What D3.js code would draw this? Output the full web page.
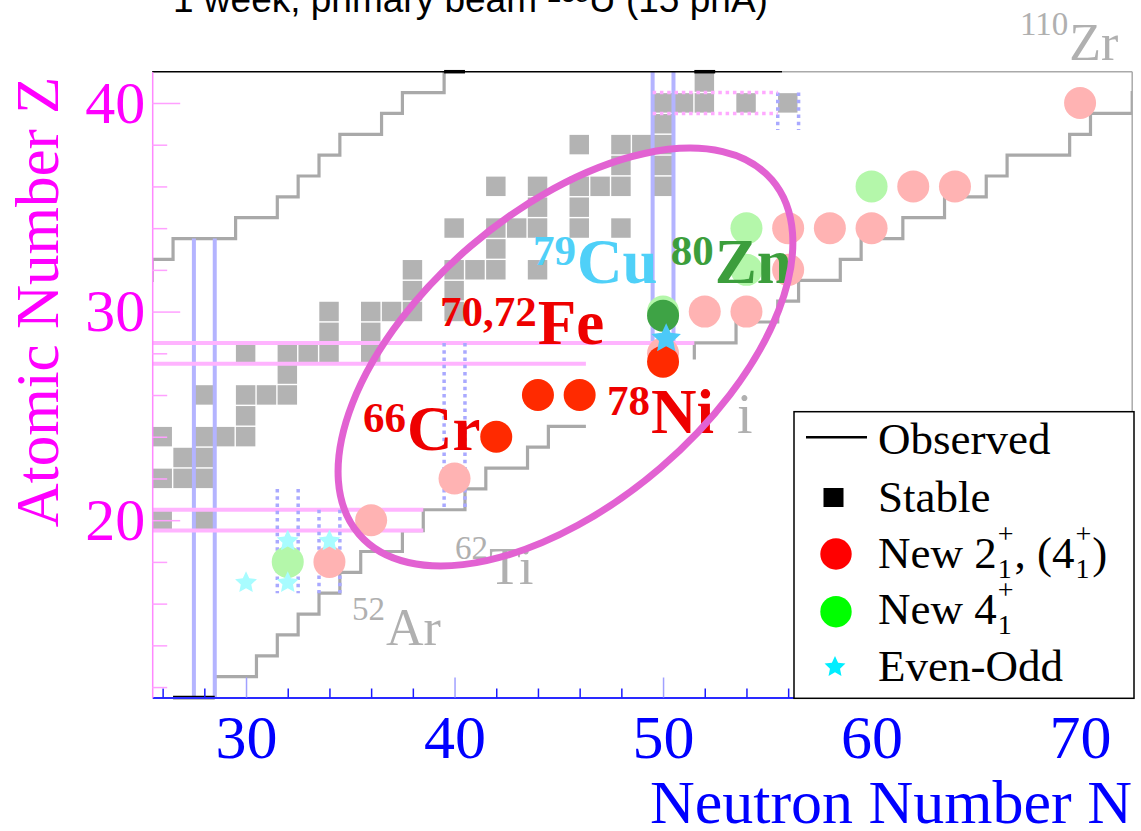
<!DOCTYPE html>
<html><head><meta charset="utf-8">
<script src="https://cdn.jsdelivr.net/npm/d3@7"></script>
<style>body{margin:0;background:#fff}svg{display:block}text{white-space:pre}</style>
</head><body>
<svg id="chart" width="1141" height="831"></svg>
<script>
// ---------------- data ----------------
const xDomain = [25.5, 72.5];
const yDomain = [11.5, 41.5];
const xMajorTicks = [30, 40, 50, 60, 70];
const xMinorTicks = [26, 28, 32, 34, 36, 38, 42, 44, 46, 48, 52, 54, 56, 58, 62, 64, 66, 68, 72];
const yMajorTicks = [20, 30, 40];
const yMinorTicks = [12, 14, 16, 18, 22, 24, 26, 28, 32, 34, 36, 38];

// stable nuclei [N, Z]
const stableNuclei = [
  [26,20],[28,20],
  [26,22],[27,22],[28,22],
  [27,23],[28,23],
  [26,24],[28,24],[29,24],[30,24],
  [30,25],
  [28,26],[30,26],[31,26],[32,26],
  [32,27],
  [30,28],[32,28],[33,28],[34,28],[36,28],
  [34,29],[36,29],
  [34,30],[36,30],[37,30],[38,30],[40,30],
  [38,31],[40,31],
  [38,32],[40,32],[41,32],[42,32],[44,32],
  [42,33],
  [40,34],[42,34],[43,34],[44,34],[46,34],[48,34],
  [44,35],[46,35],
  [42,36],[44,36],[46,36],[47,36],[48,36],[50,36],
  [48,37],[50,37],
  [46,38],[48,38],[49,38],[50,38],
  [50,39],
  [50,40],[51,40],[52,40],[54,40],[56,40],
  [52,41]
];

// observed limits (staircases) [N, Z]
const protonLimit = [[24.5,31.5],[25.5,31.5],[25.5,32.5],[26.5,32.5],[26.5,33.5],[29.5,33.5],[29.5,34.5],[31.5,34.5],[31.5,35.5],[32.5,35.5],[32.5,36.5],[33.5,36.5],[33.5,37.5],[34.5,37.5],[34.5,38.5],[36.5,38.5],[36.5,39.5],[37.5,39.5],[37.5,40.5],[39.5,40.5],[39.5,41.5]];
const neutronLimitLow = [[28.5,11.5],[28.5,12.5],[30.5,12.5],[30.5,13.5],[31.5,13.5],[31.5,14.5],[32.5,14.5],[32.5,15.5],[33.5,15.5],[33.5,16.5],[34.5,16.5],[34.5,17.5],[35.5,17.5],[35.5,18.5],[37.5,18.5],[37.5,19.5],[38.5,19.5],[38.5,20.5],[40.5,20.5],[40.5,21.5],[41.5,21.5],[41.5,22.5],[43.5,22.5],[43.5,23.5],[44.5,23.5],[44.5,24.5],[46.3,24.5]];
const neutronLimitHigh = [[51.5,27.7],[51.5,28.5],[53.5,28.5],[53.5,29.5],[55.5,29.5],[55.5,30.5],[56.5,30.5],[56.5,31.5],[58.5,31.5],[58.5,32.5],[59.5,32.5],[59.5,33.5],[61.5,33.5],[61.5,34.5],[63.5,34.5],[63.5,35.5],[65.5,35.5],[65.5,36.5],[66.5,36.5],[66.5,37.5],[69.5,37.5],[69.5,38.5],[70.5,38.5],[70.5,39.5],[72.5,39.5],[72.5,40.5],[73.5,40.5]];
const edgeObserved = [[[26.5,11.5],[28.5,11.5]], [[39.5,41.5],[40.5,41.5]], [[51.5,41.5],[52.5,41.5]]];

// magic number lines: N lines [N, Zfrom, Zto], Z lines [Z, Nfrom, Nto]
const magicNLines = [[27.5,11.5,33.5],[28.5,11.5,33.5],[49.5,28.5,41.5],[50.5,28.5,41.5]];
const magicZLines = [[19.5,25.5,38.5],[20.5,25.5,38.5],[27.5,25.5,46.3],[28.5,25.5,51.5]];
const dottedNLines = [[31.5,21.5,16.5],[32.5,21.5,16.5],[33.5,20.5,16.5],[34.5,20.5,16.5],[39.5,28.5,20.5],[40.5,28.5,20.5],[55.5,40.5,38.7],[56.5,40.5,38.7]];
const dottedZLines = [[39.5,49.5,55.5],[40.5,49.5,55.5]];

// measured (faded) states
const faded2plus = [[34,18],[36,20],[40,22],[50,28],[52,30],[54,30],[56,32],[56,34],[58,34],[60,34],[62,36],[64,36],[70,40]];
const faded4plus = [[32,18],[50,30],[54,32],[54,34],[60,36]];
const fadedEvenOdd = [[30,17],[32,17],[32,19],[34,19]];
// highlighted
const new2plus = [[42,24],[44,26],[46,26],[50,27.6]];
const new4plus = [[50,29.8]];
const newEvenOdd = [[50.15,28.7]];

// labels: start N, baseline Z, superscript, symbol
const boldLabels = [
  {n:35.61, z:23.36, sup:"66", sym:"Cr", color:"#ee0000"},
  {n:39.30, z:28.47, sup:"70,72", sym:"Fe", color:"#ee0000"},
  {n:47.31, z:24.16, sup:"78", sym:"Ni", color:"#ee0000"},
  {n:43.76, z:31.37, sup:"79", sym:"Cu", color:"#4fd0f8"},
  {n:50.37, z:31.35, sup:"80", sym:"Zn", color:"#3c9e3c"}
];
const grayLabels = [
  {n:35.08, z:14.0, sup:"52", sym:"Ar"},
  {n:40.02, z:16.96, sup:"62", sym:"Ti"},
  {n:67.12, z:42.06, sup:"110", sym:"Zr"}
];
const grayFragment = {n:53.55, z:24.17, text:"i"};
const ellipseCenter = [45.32, 27.82];
const ellipseRadii = [13.05, 7.0];
const ellipseAngle = 40.6;

// ---------------- drawing ----------------
const svg = d3.select("#chart");
const x = d3.scaleLinear().domain(xDomain).range([152.2, 1132.2]);
const y = d3.scaleLinear().domain(yDomain).range([697.5, 71.7]);
const unit = x(1) - x(0);
const serif = "'Liberation Serif','Times New Roman',serif";
const sans = "'Liberation Sans',Arial,sans-serif";

// fat five-pointed star symbol (size = outer radius squared)
const fatStar = {
  draw(ctx, size) {
    const ro = Math.sqrt(size), ri = ro * 0.48;
    for (let i = 0; i < 10; i++) {
      const r = i % 2 ? ri : ro, a = -Math.PI / 2 + i * Math.PI / 5;
      const px = r * Math.cos(a), py = r * Math.sin(a);
      i ? ctx.lineTo(px, py) : ctx.moveTo(px, py);
    }
    ctx.closePath();
  }
};

svg.append("defs").append("clipPath").attr("id","plot")
  .append("rect").attr("x",x(25.5)).attr("y",y(41.5)).attr("width",x(72.5)-x(25.5)).attr("height",y(11.5)-y(41.5));
const plot = svg.append("g").attr("clip-path","url(#plot)");

// stable squares
plot.append("g").selectAll("rect").data(stableNuclei).join("rect")
  .attr("x", d => x(d[0]-0.5)+0.3).attr("y", d => y(d[1]+0.5)+0.6)
  .attr("width", unit-1.4).attr("height", unit-1.4)
  .attr("fill","#b3b3b3");

// staircases
const line = d3.line().x(d => x(d[0])).y(d => y(d[1]));
[protonLimit, neutronLimitLow, neutronLimitHigh].forEach(p =>
  plot.append("path").attr("d", line(p)).attr("fill","none").attr("stroke","#a9a9a9").attr("stroke-width",3.2));

// magic lines
plot.append("g").selectAll("line").data(magicNLines).join("line")
  .attr("x1", d=>x(d[0])).attr("x2", d=>x(d[0])).attr("y1", d=>y(d[1])).attr("y2", d=>y(d[2]))
  .attr("stroke","#b4b4ff").attr("stroke-width",4);
plot.append("g").selectAll("line").data(magicZLines).join("line")
  .attr("y1", d=>y(d[0])).attr("y2", d=>y(d[0])).attr("x1", d=>x(d[1])).attr("x2", d=>x(d[2]))
  .attr("stroke","#ffb4ff").attr("stroke-width",4);
plot.append("g").selectAll("line").data(dottedNLines).join("line")
  .attr("x1", d=>x(d[0])).attr("x2", d=>x(d[0])).attr("y1", d=>y(d[1])).attr("y2", d=>y(d[2]))
  .attr("stroke","#a9a9ff").attr("stroke-width",3.5).attr("stroke-dasharray","3.5 3.8");
plot.append("g").selectAll("line").data(dottedZLines).join("line")
  .attr("y1", d=>y(d[0])).attr("y2", d=>y(d[0])).attr("x1", d=>x(d[1])).attr("x2", d=>x(d[2]))
  .attr("stroke","#ffaaff").attr("stroke-width",3.5).attr("stroke-dasharray","3.5 3.8");

// gray labels
function supLabel(g, xp, yp, sup, sym, color, supSize, mainSize, weight, rise) {
  const t = g.append("text").attr("x", xp).attr("y", yp - rise).attr("fill", color)
    .attr("font-family", serif).attr("font-weight", weight);
  t.append("tspan").attr("font-size", supSize).text(sup);
  t.append("tspan").attr("font-size", mainSize).attr("dy", rise).attr("dx", 1).text(sym);
  return t;
}
grayLabels.forEach(l => supLabel(svg, x(l.n), y(l.z), l.sup, l.sym, "#b0b0b0", 33, 52, "normal", 25));
svg.append("text").attr("x", x(grayFragment.n)).attr("y", y(grayFragment.z)).attr("fill","#b0b0b0")
  .attr("font-family", serif).attr("font-size", 56).text(grayFragment.text);

// faded markers
const R = 16;
plot.append("g").selectAll("circle").data(faded2plus).join("circle")
  .attr("cx", d=>x(d[0])).attr("cy", d=>y(d[1])).attr("r", R).attr("fill","#ffb3b3");
plot.append("g").selectAll("circle").data(faded4plus).join("circle")
  .attr("cx", d=>x(d[0])).attr("cy", d=>y(d[1])).attr("r", R).attr("fill","#b4f7aa");
plot.append("g").selectAll("path").data(fadedEvenOdd).join("path")
  .attr("d", d3.symbol().type(fatStar).size(11.5*11.5))
  .attr("transform", d=>`translate(${x(d[0])},${y(d[1])})`).attr("fill","#a8fcff");

// bold labels
boldLabels.forEach(l => supLabel(svg, x(l.n), y(l.z), l.sup, l.sym, l.color, 43, 63, "bold", 18));

// highlighted markers
plot.append("g").selectAll("circle").data(new2plus).join("circle")
  .attr("cx", d=>x(d[0])).attr("cy", d=>y(d[1])).attr("r", R).attr("fill","#ff2a00");
plot.append("g").selectAll("circle").data(new4plus).join("circle")
  .attr("cx", d=>x(d[0])).attr("cy", d=>y(d[1])).attr("r", R).attr("fill","#3ea345");
plot.append("g").selectAll("path").data(newEvenOdd).join("path")
  .attr("d", d3.symbol().type(fatStar).size(15.5*15.5))
  .attr("transform", d=>`translate(${x(d[0])},${y(d[1])})`).attr("fill","#4cc9f8");

// ellipse
svg.append("ellipse")
  .attr("cx", x(ellipseCenter[0])).attr("cy", y(ellipseCenter[1]))
  .attr("rx", ellipseRadii[0]*unit).attr("ry", ellipseRadii[1]*unit)
  .attr("transform", `rotate(${-ellipseAngle},${x(ellipseCenter[0])},${y(ellipseCenter[1])})`)
  .attr("fill","none").attr("stroke","#e262d2").attr("stroke-width",7);

// frame
svg.append("line").attr("x1",x(25.5)).attr("x2",782).attr("y1",y(41.5)).attr("y2",y(41.5)).attr("stroke","#000").attr("stroke-width",1.5);
svg.append("line").attr("x1",782).attr("x2",x(72.5)).attr("y1",y(41.5)).attr("y2",y(41.5)).attr("stroke","#aaa").attr("stroke-width",1.5);
svg.append("line").attr("x1",x(72.5)).attr("x2",x(72.5)).attr("y1",y(41.5)).attr("y2",y(11.5)).attr("stroke","#aaa").attr("stroke-width",1.5);
edgeObserved.forEach(s => svg.append("line").attr("x1",x(s[0][0])).attr("x2",x(s[1][0])).attr("y1",y(s[0][1])).attr("y2",y(s[1][1]))
  .attr("stroke","#000").attr("stroke-width",3.5));

// axes
const xMinor = svg.append("g").attr("transform",`translate(0,${y(11.5)})`)
  .call(d3.axisBottom(x).tickValues(xMinorTicks).tickSize(-9).tickSizeOuter(0).tickFormat(""));
xMinor.select(".domain").attr("stroke","#2a2aff").attr("stroke-width",2);
xMinor.selectAll(".tick line").attr("stroke","#1a1aff").attr("stroke-width",1.5);
const xMajor = svg.append("g").attr("transform",`translate(0,${y(11.5)})`)
  .call(d3.axisBottom(x).tickValues(xMajorTicks).tickSize(-20).tickSizeOuter(0).tickPadding(16).tickFormat(d3.format("d")));
xMajor.select(".domain").remove();
xMajor.selectAll(".tick line").attr("stroke","#a0a0ff").attr("stroke-width",1.5);
xMajor.selectAll(".tick text").attr("fill","#0000ff").attr("font-family",serif).attr("font-size",62);

const yMinor = svg.append("g").attr("transform",`translate(${x(25.5)},0)`)
  .call(d3.axisLeft(y).tickValues(yMinorTicks).tickSize(-15).tickSizeOuter(0).tickFormat(""));
yMinor.select(".domain").attr("stroke","#ff88ff").attr("stroke-width",1.5);
yMinor.selectAll(".tick line").attr("stroke","#ffa0ff").attr("stroke-width",1.5);
const yMajor = svg.append("g").attr("transform",`translate(${x(25.5)},0)`)
  .call(d3.axisLeft(y).tickValues(yMajorTicks).tickSize(-28).tickSizeOuter(0).tickPadding(7).tickFormat(d3.format("d")));
yMajor.select(".domain").remove();
yMajor.selectAll(".tick line").attr("stroke","#ffa0ff").attr("stroke-width",1.5);
yMajor.selectAll(".tick text").attr("fill","#ff00ff").attr("font-family",serif).attr("font-size",60);

// axis titles
svg.append("text").attr("x",1132).attr("y",823).attr("text-anchor","end").attr("fill","#0000ff")
  .attr("font-family",serif).attr("font-size",62).text("Neutron Number N");
svg.append("text").attr("transform","translate(58,302) rotate(-90)").attr("text-anchor","middle").attr("fill","#ff00ff")
  .attr("font-family",serif).attr("font-size",61).text("Atomic Number Z");

// title (cut off at top)
const title = svg.append("text").attr("x",173).attr("y",12).attr("fill","#000").attr("font-family",sans).attr("font-size",37);
title.append("tspan").text("1 week, primary beam ");
title.append("tspan").attr("font-size",25).attr("dy",-10).text("238");
title.append("tspan").attr("dy",10).text("U (15 pnA)");

// legend
const lg = svg.append("g");
lg.append("rect").attr("x",794).attr("y",411.7).attr("width",340).attr("height",286.6)
  .attr("fill","#fff").attr("stroke","#000").attr("stroke-width",1.5);
lg.append("line").attr("x1",806).attr("x2",867).attr("y1",437.3).attr("y2",437.3).attr("stroke","#000").attr("stroke-width",2.5);
lg.append("rect").attr("x",823.5).attr("y",488).attr("width",20).attr("height",19).attr("fill","#000");
lg.append("circle").attr("cx",836).attr("cy",554).attr("r",15.7).attr("fill","#ff0000");
lg.append("circle").attr("cx",836).attr("cy",611.7).attr("r",15.7).attr("fill","#00ff00");
lg.append("path").attr("d", d3.symbol().type(fatStar).size(11*11)).attr("transform","translate(835,667)").attr("fill","#00eeff");
const lx = 878, fs = 45;
function legText(yb, parts) {
  let cx = lx;
  parts.forEach(p => {
    if (typeof p === "string") {
      const t = lg.append("text").attr("x",cx).attr("y",yb).attr("font-family",serif).attr("font-size",fs).attr("fill","#000").text(p);
      cx += t.node().getComputedTextLength();
    } else {
      const a = lg.append("text").attr("x",cx+1).attr("y",yb-25).attr("font-family",serif).attr("font-size",28).text(p[0]);
      const b = lg.append("text").attr("x",cx+1).attr("y",yb+10).attr("font-family",serif).attr("font-size",28).text(p[1]);
      cx += Math.max(a.node().getComputedTextLength(), b.node().getComputedTextLength()) + 2;
    }
  });
}
legText(454, ["Observed"]);
legText(511.7, ["Stable"]);
legText(568.3, ["New 2", ["+","1"], ", (4", ["+","1"], ")"]);
legText(624, ["New 4", ["+","1"]]);
legText(681, ["Even-Odd"]);
</script>
</body></html>
